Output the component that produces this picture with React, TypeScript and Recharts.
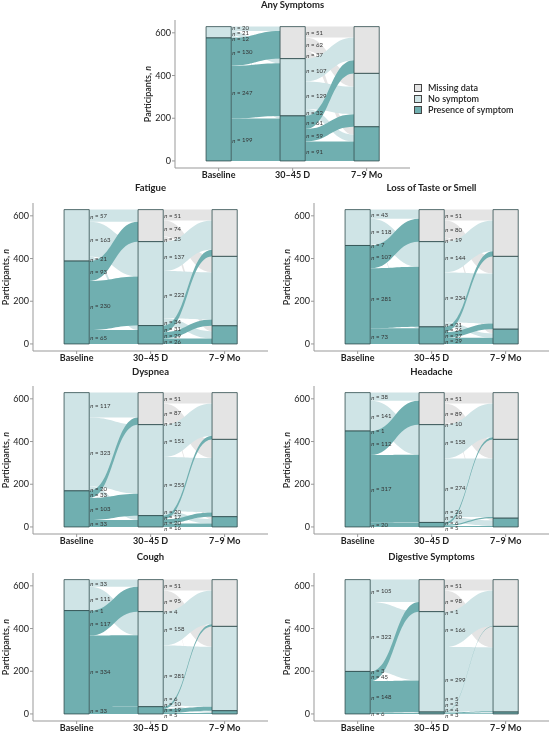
import React from "react";
import { ComposedChart, Area, XAxis, YAxis, ReferenceArea, Scatter, Label } from "recharts";

const STAGES = ["Baseline", "30–45 D", "7–9 Mo"];
const STATUS = ["Missing data", "No symptom", "Presence of symptom"];
const COLORS = ["#e4e4e4", "#cfe4e6", "#70afb0"];
const Y_TICKS = [0, 200, 400, 600];

// rows = status at the earlier visit, cols = status at the next visit (missing, no, presence)
const anyBase = [[0, 0, 0], [20, 21, 12], [130, 247, 199]];
const anyLater = [[51, 62, 37], [107, 129, 32], [61, 59, 91]];
const fatigueBase = [[0, 0, 0], [57, 163, 21], [93, 230, 65]];
const fatigueLater = [[51, 74, 25], [137, 222, 34], [31, 29, 26]];
const tasteBase = [[0, 0, 0], [43, 118, 7], [107, 281, 73]];
const tasteLater = [[51, 80, 19], [144, 234, 21], [24, 27, 29]];
const dyspneaBase = [[0, 0, 0], [117, 323, 20], [33, 103, 33]];
const dyspneaLater = [[51, 87, 12], [151, 255, 20], [17, 20, 16]];
const headacheBase = [[0, 0, 0], [38, 141, 1], [112, 317, 20]];
const headacheLater = [[51, 89, 10], [158, 274, 26], [10, 6, 5]];
const coughBase = [[0, 0, 0], [33, 111, 1], [117, 334, 33]];
const coughLater = [[51, 95, 4], [158, 281, 6], [10, 19, 5]];
const digestiveBase = [[0, 0, 0], [105, 322, 3], [45, 148, 6]];
const digestiveLater = [[51, 98, 1], [166, 299, 5], [2, 4, 3]];

const FONT = "Lato, 'Noto Sans', sans-serif";
const BAR_HALF = 0.17;
const LABEL_GAP = 26;

const sum = (a: number[]) => a.reduce((s, v) => s + v, 0);

// push overlapping n-labels apart (they are listed top to bottom)
function spread(ys: number[], lo: number, hi: number) {
  const p = [...ys];
  for (let it = 0; it < 120; it++) {
    for (let k = 0; k < p.length - 1; k++) {
      const d = p[k] - p[k + 1];
      if (d < LABEL_GAP) {
        const push = (LABEL_GAP - d) / 2;
        p[k] += push;
        p[k + 1] -= push;
      }
    }
    if (p[p.length - 1] < lo) p[p.length - 1] = lo;
    if (p[0] > hi) p[0] = hi;
  }
  return p;
}

function layout(base: number[][], later: number[][]) {
  const total = sum(base.map(sum));
  const nodes: { stage: number; i: number; lo: number; hi: number }[] = [];
  const flows: { s: number; i: number; l: number[]; r: number[] }[] = [];
  const labels: { x: number; y: number; n: number }[] = [];
  [base, later].forEach((m, s) => {
    const out = m.map(sum);
    const inn = [0, 1, 2].map(j => sum(m.map(r => r[j])));
    let top = total;
    const leftTop = out.map(v => { const t = top; top -= v; return t; });
    top = total;
    const rightTop = inn.map(v => { const t = top; top -= v; return t; });
    if (s === 0) out.forEach((v, i) => { if (v > 0) nodes.push({ stage: 1, i, lo: leftTop[i] - v, hi: leftTop[i] }); });
    inn.forEach((v, j) => { if (v > 0) nodes.push({ stage: s + 2, i: j, lo: rightTop[j] - v, hi: rightTop[j] }); });
    const cursor = [...rightTop];
    const mids: number[] = [];
    const ns: number[] = [];
    m.forEach((row, i) => {
      let c = leftTop[i];
      row.forEach((v, j) => {
        if (v > 0) {
          flows.push({ s, i, l: [c - v, c], r: [cursor[j] - v, cursor[j]] });
          mids.push(c - v / 2);
          ns.push(v);
        }
        c -= v;
        cursor[j] -= v;
      });
    });
    spread(mids, -4, total + 4).forEach((y, k) => labels.push({ x: s + 1 + BAR_HALF, y, n: ns[k] }));
  });
  return { nodes, flows, labels };
}

const PANELS = [
  { title: "Any Symptoms", base: anyBase, later: anyLater, axisX: 175, plotTop: 20, titleY: 5 },
  { title: "Fatigue", base: fatigueBase, later: fatigueLater, axisX: 33, plotTop: 203, titleY: 188 },
  { title: "Loss of Taste or Smell", base: tasteBase, later: tasteLater, axisX: 314, plotTop: 203, titleY: 188 },
  { title: "Dyspnea", base: dyspneaBase, later: dyspneaLater, axisX: 33, plotTop: 386, titleY: 372 },
  { title: "Headache", base: headacheBase, later: headacheLater, axisX: 314, plotTop: 386, titleY: 372 },
  { title: "Cough", base: coughBase, later: coughLater, axisX: 33, plotTop: 573, titleY: 557 },
  { title: "Digestive Symptoms", base: digestiveBase, later: digestiveLater, axisX: 314, plotTop: 573, titleY: 557 },
];

function YTitle(props: any) {
  const vb = props.viewBox || {};
  const cx = vb.x + 10;
  const cy = vb.y + vb.height / 2;
  return (
    <text x={cx} y={cy} transform={`rotate(-90 ${cx} ${cy})`} textAnchor="middle" dominantBaseline="central"
      fontSize={9} fontWeight={600} fill="#222" fontFamily={FONT}>
      Participants, <tspan fontStyle="italic">n</tspan>
    </text>
  );
}

function NLabel(props: any) {
  const { cx, cy, payload } = props;
  return (
    <text x={cx + 1} y={cy} dominantBaseline="central" fontSize={6} fill="#333" fontFamily={FONT}>
      <tspan fontStyle="italic">n</tspan> = {payload.n}
    </text>
  );
}

function Panel({ p }: { p: (typeof PANELS)[number] }) {
  const { nodes, flows, labels } = layout(p.base, p.later);
  return (
    <>
      <div style={{ position: "absolute", left: p.axisX, top: p.titleY - 6, width: 235, textAlign: "center",
        fontFamily: FONT, fontSize: 9.5, fontWeight: 700, color: "#222", lineHeight: "12px" }}>{p.title}</div>
      <div style={{ position: "absolute", left: p.axisX - 38, top: p.plotTop - 4 }}>
        <ComposedChart width={279} height={174} margin={{ top: 4, right: 6, left: 0, bottom: 0 }}>
          <XAxis type="number" dataKey="x" domain={[0.41, 3.586]} ticks={[1, 2, 3]} allowDataOverflow height={22}
            tickFormatter={(v: number) => STAGES[v - 1]} tickSize={3} tickMargin={1}
            stroke="#999" tick={{ fontSize: 9, fontWeight: 700, fill: "#222", fontFamily: FONT }} />
          <YAxis type="number" dataKey="y" domain={[-33, 660]} ticks={Y_TICKS} allowDataOverflow width={38}
            tickSize={3} tickMargin={1} stroke="#999" tick={{ fontSize: 9, fill: "#222", fontFamily: FONT }}>
            <Label content={YTitle} />
          </YAxis>
          {flows.map((f, k) => (
            <Area key={"f" + k} data={[{ x: f.s + 1 + BAR_HALF, v: f.l }, { x: f.s + 2 - BAR_HALF, v: f.r }]}
              dataKey="v" type="bumpX" stroke="none" fill={COLORS[f.i]} fillOpacity={1} dot={false} activeDot={false}
              isAnimationActive={false} style={{ mixBlendMode: "multiply" }} />
          ))}
          {nodes.map((n, k) => (
            <ReferenceArea key={"n" + k} x1={n.stage - BAR_HALF} x2={n.stage + BAR_HALF} y1={n.lo} y2={n.hi}
              fill={COLORS[n.i]} fillOpacity={1} stroke="#2f4b4d" strokeWidth={0.8} />
          ))}
          <Scatter data={labels} dataKey="y" shape={NLabel} isAnimationActive={false} />
        </ComposedChart>
      </div>
    </>
  );
}

export default function App() {
  return (
    <div style={{ position: "absolute", left: 0, top: 0, width: 552, height: 737, overflow: "hidden", background: "#fff" }}>
      {PANELS.map(p => <Panel key={p.title} p={p} />)}
      <div style={{ position: "absolute", left: 414, top: 82, fontFamily: FONT, fontSize: 9, fontWeight: 600, color: "#222" }}>
        {STATUS.map((s, i) => (
          <div key={s} style={{ display: "flex", alignItems: "center", height: 11 }}>
            <span style={{ width: 6, height: 6, background: COLORS[i], border: "0.8px solid #444", marginRight: 6, display: "inline-block" }} />
            {s}
          </div>
        ))}
      </div>
    </div>
  );
}
